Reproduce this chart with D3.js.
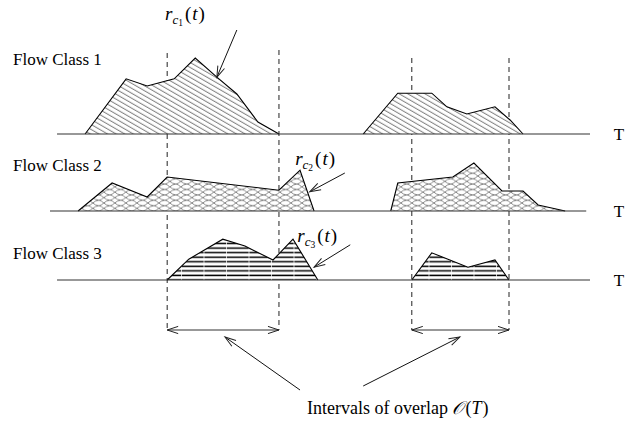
<!DOCTYPE html>
<html>
<head>
<meta charset="utf-8">
<script src="https://cdn.jsdelivr.net/npm/d3@7"></script>
<style>
  html, body { margin: 0; padding: 0; background: #fff; }
  svg { display: block; }
  text { font-family: "Liberation Serif", "Times New Roman", serif; fill: #000; }
</style>
</head>
<body>
<svg id="chart" width="639" height="429"></svg>
<script>
// ---------------- DATA (time units t, rate units r) ----------------
const classes = ["Flow Class 1", "Flow Class 2", "Flow Class 3"];
const rateLabels = ["1", "2", "3"];
const axisLabel = "T";
const bottomLabel = "Intervals of overlap ";

// rate curves of each flow class, one array per burst
const flow1Burst1 = [[6.5,0],[14.1,6.9],[18.0,6.0],[23.0,6.9],[26.9,9.5],[30.9,7.1],[34.6,5.0],[38.5,1.5],[42.4,0]];
const flow1Burst2 = [[58.0,0],[64.4,5.1],[70.7,5.1],[73.5,3.4],[77.2,2.5],[82.4,3.4],[85.2,1.75],[87.6,0]];
const flow2Burst1 = [[5.2,0],[11.5,3.5],[18.0,1.75],[21.7,4.25],[42.4,2.6],[46.3,5.1],[48.9,0]];
const flow2Burst2 = [[63.1,0],[64.4,3.5],[74.6,4.25],[78.5,6.0],[83.7,2.5],[87.6,2.5],[90.4,0.75],[95.4,0]];
const flow3Burst1 = [[21.7,0],[25.7,2.6],[32.0,5.1],[36.1,4.25],[41.3,2.5],[45.0,5.1],[49.6,0]];
const flow3Burst2 = [[67.0,0],[70.7,3.4],[77.4,1.6],[82.4,2.5],[85.0,0]];

// time axis extent per class
const axisSpans = [[1.3, 100], [0, 99.3], [1.3, 100]];
// overlap intervals O(T)
const overlaps = [[21.7, 42.4], [67.0, 85.0]];
// rate-label annotation: label pos, arrow tail, arrow tip (t, r)
const rateAnnot = [
  { label: [21.3, 14.25], tail: [34.6, 13.0], tip: [30.9, 7.1] },
  { label: [45.4, 5.75],  tail: [54.6, 4.75], tip: [48.1, 2.4] },
  { label: [45.8, 4.75],  tail: [55.6, 4.4],  tip: [48.9, 1.6] }
];
// arrows from the bottom label to the overlap intervals (t of tail, t of tip)
const overlapArrows = [[46.3, 32.4], [58.0, 75.9]];

// ---------------- LAYOUT ----------------
const svg = d3.select("#chart");
const x = d3.scaleLinear().domain([0, 100]).range([50, 590]);
const rate = d3.scaleLinear().domain([0, 10]).range([0, 80]);
const baseY = d3.scaleOrdinal().domain(classes).range([134, 211, 280]);
const bursts = [[flow1Burst1, flow1Burst2], [flow2Burst1, flow2Burst2], [flow3Burst1, flow3Burst2]];

const defs = svg.append("defs");
// class 1: diagonal hatch
const p1 = defs.append("pattern").attr("id", "hatch1").attr("patternUnits", "userSpaceOnUse")
  .attr("width", 8).attr("height", 4.3).attr("patternTransform", "rotate(30)");
p1.append("line").attr("x1", 0).attr("x2", 8).attr("y1", 2).attr("y2", 2)
  .attr("stroke", "#444").attr("stroke-width", 0.75);
// class 2: fish-net crosshatch
const p2 = defs.append("pattern").attr("id", "hatch2").attr("patternUnits", "userSpaceOnUse")
  .attr("width", 11).attr("height", 5.4).attr("y", 0.5);
p2.append("path").attr("d", "M0,0 C3,0 6,5.4 11,5.4 M0,5.4 C3,5.4 6,0 11,0 M-11,0 C-8,0 -5,5.4 0,5.4 M-11,5.4 C-8,5.4 -5,0 0,0")
  .attr("fill", "none").attr("stroke", "#4a4a4a").attr("stroke-width", 0.65);
// class 3: horizontal thick lines with white tile seams
const p3 = defs.append("pattern").attr("id", "hatch3").attr("patternUnits", "userSpaceOnUse")
  .attr("width", 22.5).attr("height", 4.55).attr("x", 1).attr("y", 0.2);
p3.append("line").attr("x1", 0).attr("x2", 22.5).attr("y1", 2.2).attr("y2", 2.2)
  .attr("stroke", "#000").attr("stroke-width", 1.5);
p3.append("line").attr("x1", 0.5).attr("x2", 0.5).attr("y1", 0).attr("y2", 4.55)
  .attr("stroke", "#fff").attr("stroke-width", 0.7);

// open arrow head marker
function marker(id) {
  defs.append("marker").attr("id", id).attr("markerUnits", "userSpaceOnUse")
    .attr("viewBox", "-12 -6 14 12").attr("refX", 0).attr("refY", 0)
    .attr("markerWidth", 14).attr("markerHeight", 12).attr("orient", "auto-start-reverse")
    .append("path").attr("d", "M-11,-3.6 L0,0 L-11,3.6").attr("fill", "none")
    .attr("stroke", "#222").attr("stroke-width", 1);
}
marker("arr");

const patterns = ["url(#hatch1)", "url(#hatch2)", "url(#hatch3)"];

// dashed overlap boundaries (behind)
const dashTop = [[53, 50], [58, 58]];
overlaps.forEach((iv, i) => {
  iv.forEach((t, j) => {
    svg.append("line").attr("x1", x(t)).attr("x2", x(t))
      .attr("y1", dashTop[i][j]).attr("y2", 330)
      .attr("stroke", "#222").attr("stroke-width", 1).attr("stroke-dasharray", "5,4");
  });
});

classes.forEach((name, ci) => {
  const b = baseY(name);
  const g = svg.append("g");
  const area = d3.area().x(d => x(d[0])).y0(b).y1(d => b - rate(d[1]));
  const line = d3.line().x(d => x(d[0])).y(d => b - rate(d[1]));
  bursts[ci].forEach(pts => {
    g.append("path").attr("d", area(pts)).attr("fill", "#fff");
    g.append("path").attr("d", area(pts)).attr("fill", patterns[ci]);
    g.append("path").attr("d", line(pts)).attr("fill", "none")
      .attr("stroke", "#000").attr("stroke-width", 1.1).attr("stroke-linejoin", "miter");
  });
  // time axis
  const span = axisSpans[ci];
  g.append("line").attr("x1", x(span[0])).attr("x2", x(span[1])).attr("y1", b).attr("y2", b)
    .attr("stroke", "#333").attr("stroke-width", 1.2);
  g.append("text").attr("x", 619).attr("y", b + 6).attr("text-anchor", "middle")
    .attr("font-size", 17).text(axisLabel);
  g.append("text").attr("x", 13).attr("y", [65, 171, 259][ci])
    .attr("font-size", 17).text(name);

  // rate label r_{c_i}(t)
  const a = rateAnnot[ci];
  const lt = g.append("text").attr("x", x(a.label[0])).attr("y", b - rate(a.label[1]))
    .attr("font-size", 19);
  lt.append("tspan").attr("font-style", "italic").text("r");
  lt.append("tspan").attr("font-style", "italic").attr("font-size", 13).attr("dy", 4).text("c");
  lt.append("tspan").attr("font-size", 9.5).attr("dy", 2).text(rateLabels[ci]);
  lt.append("tspan").attr("dy", -6).attr("dx", 2).text("(");
  lt.append("tspan").attr("font-style", "italic").attr("dx", 1).text("t");
  lt.append("tspan").attr("dx", 1).text(")");
  g.append("line").attr("x1", x(a.tail[0])).attr("y1", b - rate(a.tail[1]))
    .attr("x2", x(a.tip[0])).attr("y2", b - rate(a.tip[1]))
    .attr("stroke", "#111").attr("stroke-width", 1).attr("marker-end", "url(#arr)");
});

// double-headed interval arrows
overlaps.forEach(iv => {
  svg.append("line").attr("x1", x(iv[0])).attr("x2", x(iv[1])).attr("y1", 330).attr("y2", 330)
    .attr("stroke", "#333").attr("stroke-width", 1.1)
    .attr("marker-start", "url(#arr)").attr("marker-end", "url(#arr)");
});

// arrows from bottom label
const tailY = [390, 386];
overlapArrows.forEach((a, i) => {
  svg.append("line").attr("x1", x(a[0])).attr("y1", tailY[i]).attr("x2", x(a[1])).attr("y2", 337)
    .attr("stroke", "#111").attr("stroke-width", 1).attr("marker-end", "url(#arr)");
});

const bt = svg.append("text").attr("x", 307).attr("y", 414).attr("font-size", 18);
bt.append("tspan").text(bottomLabel);
bt.append("tspan").attr("font-style", "italic").attr("font-family", "DejaVu Serif, Liberation Serif, serif").attr("font-size", 18).text("𝒪");
bt.append("tspan").attr("dx", 2).text("(");
bt.append("tspan").attr("font-style", "italic").text("T");
bt.append("tspan").attr("dx", 1).text(")");
</script>
</body>
</html>
